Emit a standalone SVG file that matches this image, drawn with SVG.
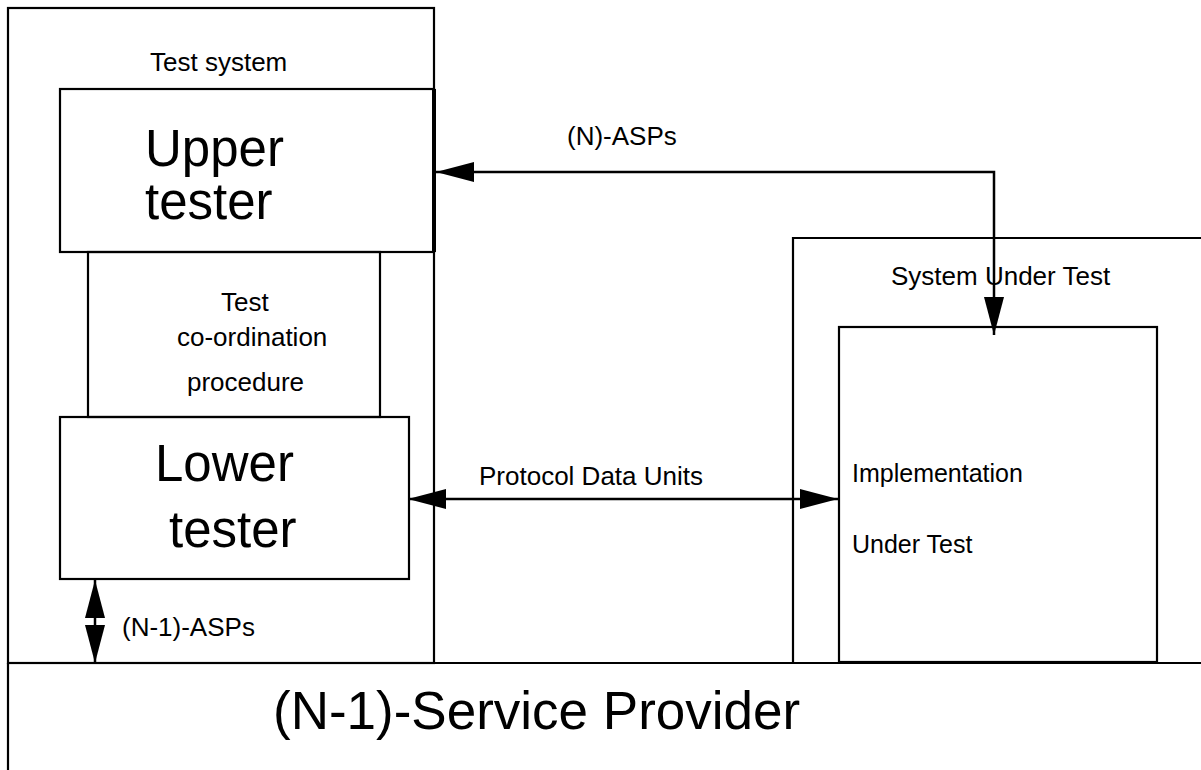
<svg xmlns="http://www.w3.org/2000/svg" width="1201" height="770" viewBox="0 0 1201 770">
  <style>
    .box { fill: none; stroke: #000; stroke-width: 2.2; }
    .conn { fill: none; stroke: #000; stroke-width: 2.5; }
    .lbl { font-family: "Liberation Sans", Arial, sans-serif; font-size: 26px; fill: #000; }
    .iut { font-family: "Liberation Sans", Arial, sans-serif; font-size: 25px; fill: #000; }
    .big { font-family: "Liberation Sans", Arial, sans-serif; font-size: 51px; fill: #000; }
    .huge { font-family: "Liberation Sans", Arial, sans-serif; font-size: 53px; fill: #000; }
  </style>
  <defs>
    <marker id="head" markerUnits="userSpaceOnUse" markerWidth="38" markerHeight="20" refX="38" refY="10" orient="auto-start-reverse" viewBox="0 0 38 20">
      <path d="M0,0 L38,10 L0,20 z" fill="#000"/>
    </marker>
  </defs>
  <rect width="1201" height="770" fill="#fff"/>

  <!-- test system enclosure -->
  <g id="test-system">
    <rect class="box" x="8" y="8" width="426" height="655"/>
    <text class="lbl" x="150" y="71">Test system</text>
  </g>

  <!-- upper tester -->
  <g id="upper-tester">
    <rect class="box" x="60" y="89" width="374" height="163"/>
    <line x1="434" y1="89" x2="434" y2="252" stroke="#000" stroke-width="4"/>
    <text class="big" x="145" y="166">Upper</text>
    <text class="big" x="145" y="219">tester</text>
  </g>

  <!-- coordination procedure -->
  <g id="coordination">
    <rect class="box" x="88" y="252" width="292" height="165"/>
    <text class="lbl" x="221" y="311">Test</text>
    <text class="lbl" x="177" y="346">co-ordination</text>
    <text class="lbl" x="187" y="391">procedure</text>
  </g>

  <!-- lower tester -->
  <g id="lower-tester">
    <rect class="box" x="60" y="417" width="349" height="162"/>
    <text class="big" x="155" y="481">Lower</text>
    <text class="big" x="169" y="547">tester</text>
  </g>

  <!-- system under test -->
  <g id="system-under-test">
    <path class="box" d="M1201,238 H793 V663"/>
    <text class="lbl" x="891" y="285">System Under Test</text>
  </g>

  <!-- implementation under test -->
  <g id="iut">
    <rect class="box" x="839" y="327" width="318" height="335"/>
    <text class="iut" x="852" y="482">Implementation</text>
    <text class="iut" x="852" y="553">Under Test</text>
  </g>

  <!-- service provider -->
  <g id="service-provider">
    <path class="box" d="M8,663 H1201 M8,663 V770"/>
    <text class="huge" x="273" y="729">(N-1)-Service Provider</text>
  </g>

  <!-- connectors -->
  <g id="connectors">
    <path class="conn" d="M436,172 H994 V335" marker-start="url(#head)" marker-end="url(#head)"/>
    <text class="lbl" x="567" y="145">(N)-ASPs</text>
    <path class="conn" d="M408,499 H838" marker-start="url(#head)" marker-end="url(#head)"/>
    <text class="lbl" x="479" y="485">Protocol Data Units</text>
    <path class="conn" d="M95,580 V663" marker-start="url(#head)" marker-end="url(#head)"/>
    <text class="lbl" x="122" y="636">(N-1)-ASPs</text>
  </g>
</svg>
